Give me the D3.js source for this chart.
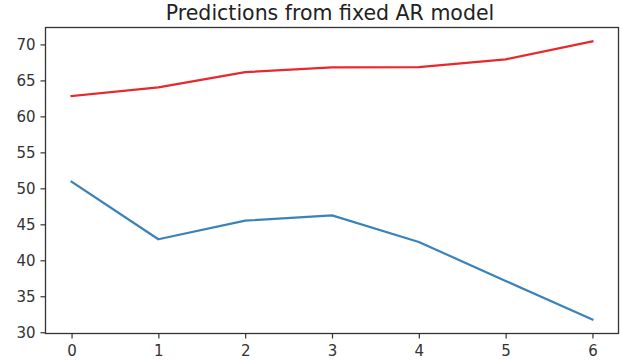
<!DOCTYPE html>
<html>
<head>
<meta charset="utf-8">
<script src="https://cdn.jsdelivr.net/npm/d3@7"></script>
<style>
  html, body { margin: 0; padding: 0; background: #fff; }
  svg { display: block; font-family: "DejaVu Sans", sans-serif; }
</style>
</head>
<body>
<svg id="chart" width="621" height="362"></svg>
<script>
// Forecast steps and the two predicted series
const steps = [0, 1, 2, 3, 4, 5, 6];
const upperPred = [62.82, 64.03, 66.15, 66.80, 66.85, 67.92, 70.42];
const lowerPred = [50.93, 42.92, 45.51, 46.25, 42.55, 37.13, 31.76];
const xTicks = [0, 1, 2, 3, 4, 5, 6];
const yTicks = [30, 35, 40, 45, 50, 55, 60, 65, 70];
const title = "Predictions from fixed AR model";

const svg = d3.select("#chart");
const margin = { left: 45.5, right: 2.5, top: 27.5, bottom: 28.5 };
const W = 621, H = 362;

// matplotlib-style 5% margins around the data
const xMin = d3.min(steps), xMax = d3.max(steps);
const xPad = (xMax - xMin) * 0.05;
const allY = upperPred.concat(lowerPred);
const yMin = d3.min(allY), yMax = d3.max(allY);
const yPad = (yMax - yMin) * 0.05;

const x = d3.scaleLinear()
  .domain([xMin - xPad, xMax + xPad])
  .range([margin.left, W - margin.right]);
const y = d3.scaleLinear()
  .domain([yMin - yPad, yMax + yPad])
  .range([H - margin.bottom, margin.top]);

const line = d3.line()
  .x((d, i) => x(steps[i]))
  .y(d => y(d));

svg.append("path")
  .datum(lowerPred)
  .attr("d", line)
  .attr("fill", "none")
  .attr("stroke", "#3a83ba")
  .attr("stroke-width", 2.2)
  .attr("stroke-linejoin", "round")
  .attr("stroke-linecap", "square");

svg.append("path")
  .datum(upperPred)
  .attr("d", line)
  .attr("fill", "none")
  .attr("stroke", "#e8282c")
  .attr("stroke-width", 2.2)
  .attr("stroke-linejoin", "round")
  .attr("stroke-linecap", "square");

// Axes
const xAxis = d3.axisBottom(x)
  .tickValues(xTicks)
  .tickFormat(d3.format("d"))
  .tickSize(5)
  .tickPadding(7);
const yAxis = d3.axisLeft(y)
  .tickValues(yTicks)
  .tickFormat(d3.format("d"))
  .tickSize(5)
  .tickPadding(5);

const gx = svg.append("g")
  .attr("transform", `translate(0,${H - margin.bottom})`)
  .call(xAxis);
const gy = svg.append("g")
  .attr("transform", `translate(${margin.left},0)`)
  .call(yAxis);

[gx, gy].forEach(g => {
  g.select(".domain").remove();
  g.selectAll(".tick line").attr("stroke", "#333").attr("stroke-width", 1.2);
  g.selectAll(".tick text")
    .attr("fill", "#333")
    .style("font-family", "'DejaVu Sans', sans-serif")
    .style("font-size", "15px");
});

// Frame around the plot area
svg.append("rect")
  .attr("x", margin.left)
  .attr("y", margin.top)
  .attr("width", W - margin.left - margin.right)
  .attr("height", H - margin.top - margin.bottom)
  .attr("fill", "none")
  .attr("stroke", "#333")
  .attr("stroke-width", 1.3);

svg.append("text")
  .attr("x", 330)
  .attr("y", 20)
  .attr("text-anchor", "middle")
  .attr("fill", "#222")
  .style("font-size", "20.5px")
  .text(title);
</script>
</body>
</html>
